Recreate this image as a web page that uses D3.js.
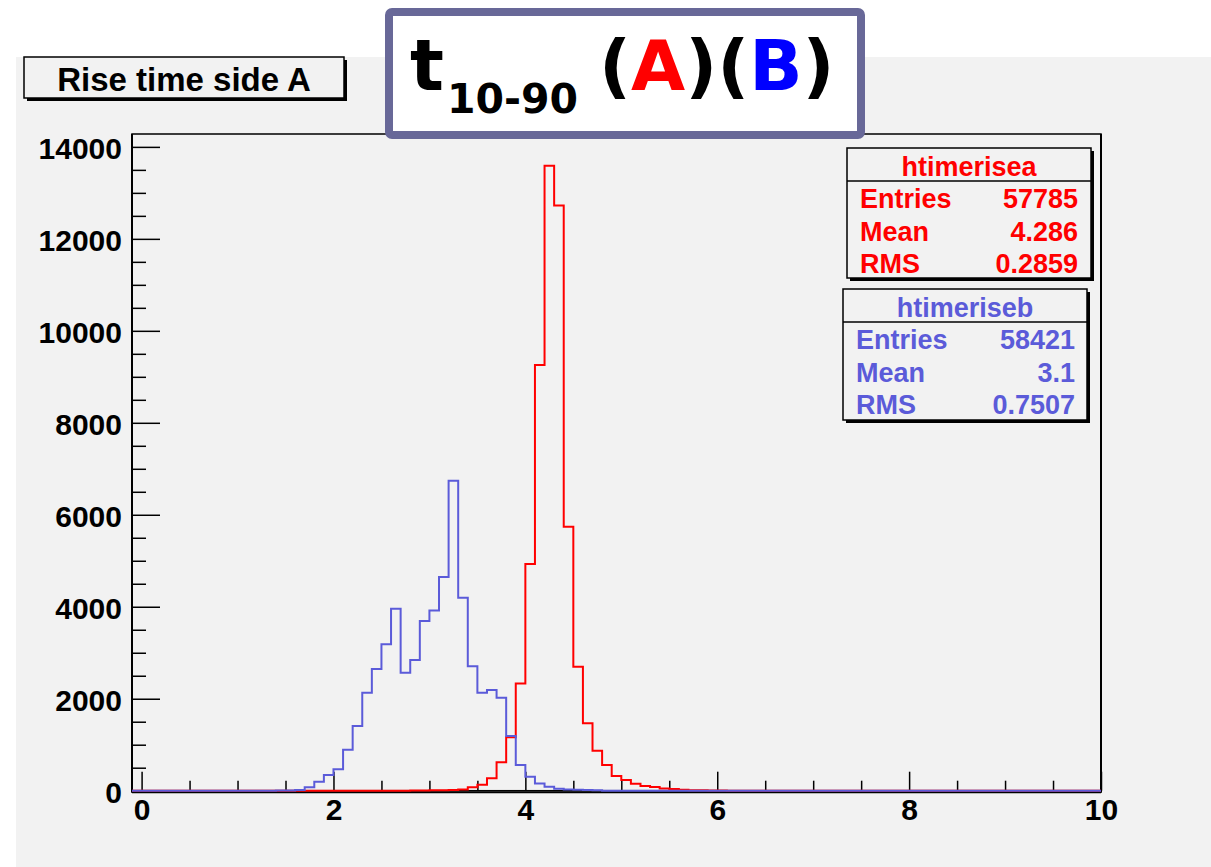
<!DOCTYPE html>
<html>
<head>
<meta charset="utf-8">
<script src="https://cdn.jsdelivr.net/npm/d3@7"></script>
<style>
body { margin: 0; background: #ffffff; }
text { font-family: "Liberation Sans", Arial, sans-serif; font-weight: bold; }
</style>
</head>
<body>
<div id="plot"></div>
<script>
// canvas size
const width = 1211;
const height = 867;

// histogram range and binning (ROOT TH1: -0.1 .. 10, 0.1 wide bins)
const xRange = [-0.1, 10];
const binWidth = 0.1;
const yMax = 14280;

// side A (red) - lower bin edges and counts
const edgesA = [2.8, 2.9, 3.0, 3.1, 3.2, 3.3, 3.4, 3.5, 3.6, 3.7, 3.8, 3.9, 4.0, 4.1, 4.2, 4.3,
    4.4, 4.5, 4.6, 4.7, 4.8, 4.9, 5.0, 5.1, 5.2, 5.3, 5.4, 5.5, 5.6, 5.7, 5.8, 5.9, 6.0];
const countsA = [3, 5, 8, 10, 15, 25, 74, 132, 270, 618, 1160, 2333, 4928, 9255, 13587, 12726,
    5739, 2696, 1465, 870, 559, 320, 233, 152, 102, 80, 50, 35, 22, 12, 8, 5, 3];

// side B (blue)
const edgesB = [1.4, 1.5, 1.6, 1.7, 1.8, 1.9, 2.0, 2.1, 2.2, 2.3, 2.4, 2.5, 2.6, 2.7, 2.8, 2.9,
    3.0, 3.1, 3.2, 3.3, 3.4, 3.5, 3.6, 3.7, 3.8, 3.9, 4.0, 4.1, 4.2, 4.3, 4.4, 4.5, 4.6, 4.7];
const countsB = [3, 6, 15, 74, 196, 341, 465, 891, 1407, 2130, 2646, 3182, 3957, 2565, 2841, 3689,
    3921, 4646, 6739, 4196, 2704, 2130, 2188, 2021, 1188, 557, 304, 159, 87, 43, 28, 20, 15, 12];

// axis ticks
const xMajor = [0, 2, 4, 6, 8, 10];
const xMinor = [0.5, 1, 1.5, 2.5, 3, 3.5, 4.5, 5, 5.5, 6.5, 7, 7.5, 8.5, 9, 9.5];
const yMajor = [0, 2000, 4000, 6000, 8000, 10000, 12000, 14000];
const yMinor = [500, 1000, 1500, 2500, 3000, 3500, 4500, 5000, 5500, 6500, 7000, 7500,
    8500, 9000, 9500, 10500, 11000, 11500, 12500, 13000, 13500];

// stats boxes
const statLabels = ["Entries", "Mean", "RMS"];
const statsA = { name: "htimerisea", values: ["57785", "4.286", "0.2859"] };
const statsB = { name: "htimeriseb", values: ["58421", "3.1", "0.7507"] };

const red = "#ff0000";
const blue = "#5b5bd9";
const padGray = "#f2f2f2";

// frame
const frame = { left: 132, top: 134, right: 1101, bottom: 790.7 };

const svg = d3.select("div#plot")
    .append("svg")
    .attr("width", width)
    .attr("height", height);

// pad background
svg.append("rect").attr("x", 0).attr("y", 0).attr("width", width).attr("height", height).attr("fill", "#ffffff");
svg.append("rect").attr("x", 16).attr("y", 57).attr("width", width - 16).attr("height", height - 57).attr("fill", padGray);

const x = d3.scaleLinear().domain(xRange).range([frame.left, frame.right]);
const y = d3.scaleLinear().domain([0, yMax]).range([frame.bottom, frame.top]);

// frame border
svg.append("rect")
    .attr("x", frame.left).attr("y", frame.top)
    .attr("width", frame.right - frame.left).attr("height", frame.bottom - frame.top)
    .attr("fill", "none").attr("stroke", "#000").attr("stroke-width", 1.5);

// y axis
const yAxis = svg.append("g")
    .attr("transform", "translate(" + frame.left + ",0)")
    .call(d3.axisLeft(y).tickValues(yMajor).tickSize(-28).tickPadding(10).tickFormat(d3.format("d")));
yAxis.select(".domain").remove();
yAxis.selectAll("line").attr("stroke", "#000").attr("stroke-width", 1.5);
yAxis.selectAll("text").attr("font-size", 30).attr("dy", "0.38em").attr("fill", "#000")
    .style("font-family", "Liberation Sans, Arial, sans-serif").style("font-weight", "bold");

const yAxisMinor = svg.append("g")
    .attr("transform", "translate(" + frame.left + ",0)")
    .call(d3.axisLeft(y).tickValues(yMinor).tickSize(-14).tickFormat(""));
yAxisMinor.select(".domain").remove();
yAxisMinor.selectAll("line").attr("stroke", "#000").attr("stroke-width", 1.5);

// x axis
const xAxis = svg.append("g")
    .attr("transform", "translate(0," + frame.bottom + ")")
    .call(d3.axisBottom(x).tickValues(xMajor).tickSize(-19).tickPadding(8).tickFormat(d3.format("d")));
xAxis.select(".domain").remove();
xAxis.selectAll("line").attr("stroke", "#000").attr("stroke-width", 1.5);
xAxis.selectAll("text").attr("font-size", 30).attr("fill", "#000")
    .style("font-family", "Liberation Sans, Arial, sans-serif").style("font-weight", "bold");

const xAxisMinor = svg.append("g")
    .attr("transform", "translate(0," + frame.bottom + ")")
    .call(d3.axisBottom(x).tickValues(xMinor).tickSize(-10).tickFormat(""));
xAxisMinor.select(".domain").remove();
xAxisMinor.selectAll("line").attr("stroke", "#000").attr("stroke-width", 1.5);

// axis lines
svg.append("line").attr("x1", frame.left).attr("x2", frame.left).attr("y1", frame.top).attr("y2", frame.bottom + 2)
    .attr("stroke", "#000").attr("stroke-width", 2);
svg.append("line").attr("x1", frame.left).attr("x2", frame.right).attr("y1", frame.bottom + 1.5).attr("y2", frame.bottom + 1.5)
    .attr("stroke", "#000").attr("stroke-width", 2);
svg.append("line").attr("x1", frame.right).attr("x2", frame.right).attr("y1", frame.top).attr("y2", frame.bottom + 2)
    .attr("stroke", "#000").attr("stroke-width", 2);

// build a step path over the whole range
function histPoints(edges, counts) {
    const lookup = new Map();
    edges.forEach(function(e, i) { lookup.set(Math.round(e * 10), counts[i]); });
    const pts = [[xRange[0], 0]];
    const n = Math.round((xRange[1] - xRange[0]) / binWidth);
    for (let i = 0; i < n; i++) {
        const lo = xRange[0] + i * binWidth;
        const v = lookup.get(Math.round(lo * 10)) || 0;
        pts.push([lo, v]);
        pts.push([lo + binWidth, v]);
    }
    pts.push([xRange[1], 0]);
    return pts;
}

const line = d3.line()
    .x(function(d) { return x(d[0]); })
    .y(function(d) { return y(d[1]); });

svg.append("path")
    .attr("d", line(histPoints(edgesA, countsA)))
    .attr("fill", "none")
    .attr("stroke", red)
    .attr("stroke-width", 2);

svg.append("path")
    .attr("d", line(histPoints(edgesB, countsB)))
    .attr("fill", "none")
    .attr("stroke", blue)
    .attr("stroke-width", 2);

// histogram title box
function shadowBox(x0, y0, w, h, fill) {
    svg.append("rect").attr("x", x0 + 3).attr("y", y0 + 3).attr("width", w).attr("height", h).attr("fill", "#000");
    svg.append("rect").attr("x", x0).attr("y", y0).attr("width", w).attr("height", h)
        .attr("fill", fill).attr("stroke", "#000").attr("stroke-width", 1.5);
}

shadowBox(24, 57, 320, 41, padGray);
svg.append("text").attr("x", 184).attr("y", 91).attr("text-anchor", "middle")
    .attr("font-size", 33).attr("fill", "#000").text("Rise time side A");

// stats boxes
function statsBox(st, x0, y0, w, h, sepY, color, titleY, rowY, labelX, valueX) {
    shadowBox(x0, y0, w, h, padGray);
    svg.append("line").attr("x1", x0).attr("x2", x0 + w).attr("y1", sepY).attr("y2", sepY)
        .attr("stroke", "#000").attr("stroke-width", 1.5);
    svg.append("text").attr("x", x0 + w / 2).attr("y", titleY).attr("text-anchor", "middle")
        .attr("font-size", 27).attr("fill", color).text(st.name);
    statLabels.forEach(function(lbl, i) {
        svg.append("text").attr("x", labelX).attr("y", rowY[i])
            .attr("font-size", 27).attr("fill", color).text(lbl);
        svg.append("text").attr("x", valueX).attr("y", rowY[i]).attr("text-anchor", "end")
            .attr("font-size", 27).attr("fill", color).text(st.values[i]);
    });
}

statsBox(statsA, 847, 148, 244, 130, 181, red, 176, [208, 241, 273], 860, 1078);
statsBox(statsB, 843, 289, 244, 131, 322, blue, 317, [349, 382, 414], 856, 1075);

// big title box
svg.append("rect")
    .attr("x", 389).attr("y", 12).attr("width", 472).attr("height", 123).attr("rx", 3)
    .attr("fill", "#ffffff").attr("stroke", "#686898").attr("stroke-width", 8);

const big = svg.append("g");
big.append("text").attr("x", 410).attr("y", 90).attr("font-size", 71)
    .style("font-family", "DejaVu Sans, sans-serif").attr("fill", "#000").text("t");
big.append("text").attr("x", 447).attr("y", 113).attr("font-size", 41)
    .style("font-family", "DejaVu Sans, sans-serif").attr("fill", "#000").text("10-90");
const paren = big.append("text").attr("x", 599).attr("y", 90).attr("font-size", 70)
    .style("font-family", "DejaVu Sans, sans-serif").attr("fill", "#000");
paren.append("tspan").text("(");
paren.append("tspan").attr("fill", "#ff0000").text("A");
paren.append("tspan").text(")(");
paren.append("tspan").attr("fill", "#0000ff").text("B");
paren.append("tspan").text(")");
</script>
</body>
</html>
